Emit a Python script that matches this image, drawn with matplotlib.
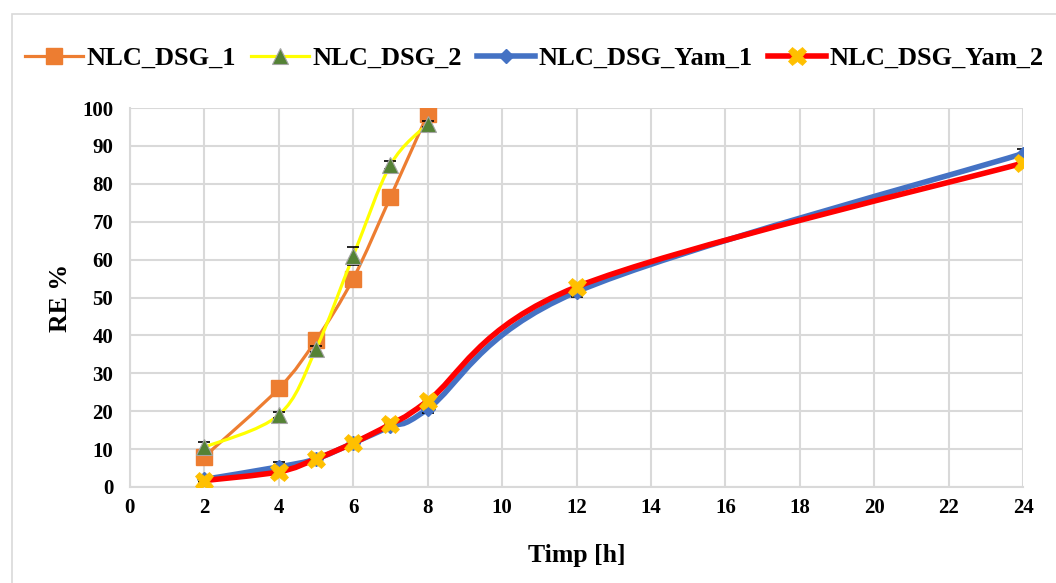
import numpy as np
import matplotlib
matplotlib.use("Agg")
import matplotlib.pyplot as plt
from matplotlib.path import Path
from matplotlib.patches import PathPatch, Rectangle
from matplotlib.lines import Line2D

plt.rcParams['font.family'] = ['Liberation Serif', 'DejaVu Serif']
plt.rcParams['font.weight'] = 'bold'

# Release data
t_dsg = [2, 4, 5, 6, 7, 8]
dsg_1 = [8.0, 26.0, 38.8, 55.0, 76.5, 98.4]
dsg_1_err = [0.8, 0.8, 0.8, 0.8, 0.8, 0.8]
dsg_2 = [10.5, 19.0, 36.4, 61.0, 85.0, 95.8]
dsg_2_err = [1.5, 0.8, 0.8, 2.3, 1.0, 0.8]

t_yam = [2, 4, 5, 6, 7, 8, 12, 24]
yam_1 = [2.0, 5.3, 7.4, 11.6, 16.0, 20.6, 51.5, 88.0]
yam_1_err = [0.5, 1.3, 0.6, 0.6, 1.0, 1.2, 1.3, 1.1]
yam_2 = [1.7, 4.0, 7.4, 11.6, 16.6, 22.7, 52.8, 85.5]
yam_2_err = [0.4, 0.6, 0.5, 0.5, 0.6, 0.6, 0.6, 0.6]

labels = ['NLC_DSG_1', 'NLC_DSG_2', 'NLC_DSG_Yam_1', 'NLC_DSG_Yam_2']
x_ticks = list(range(0, 25, 2))
y_ticks = list(range(0, 101, 10))


def smooth_path(xs, ys):
    """Cubic Bezier path through the points (Catmull-Rom style smoothing)."""
    pts = np.column_stack([xs, ys]).astype(float)
    n = len(pts)
    verts = [pts[0]]
    codes = [Path.MOVETO]
    for i in range(n - 1):
        p0 = pts[i - 1] if i > 0 else pts[i]
        p1 = pts[i]
        p2 = pts[i + 1]
        p3 = pts[i + 2] if i + 2 < n else pts[i + 1]
        c1 = p1 + (p2 - p0) / 6.0
        c2 = p2 - (p3 - p1) / 6.0
        verts += [c1, c2, p2]
        codes += [Path.CURVE4] * 3
    return Path(verts, codes)


fig = plt.figure(figsize=(10.56, 5.83), dpi=100)
# light chart-area frame
fig.patches.append(Rectangle((12 / 1056, -0.1), 1.2, 1.1 - 14 / 583,
                             transform=fig.transFigure, fill=False,
                             edgecolor='#d9d9d9', linewidth=1.2))
ax = fig.add_axes([0.123, 0.1647, 0.846, 0.650])

series = [
    (t_dsg, dsg_1, dsg_1_err, '#ED7D31', 2.3, dict(marker='s', ms=11, mfc='#ED7D31', mec='#ED7D31')),
    (t_dsg, dsg_2, dsg_2_err, '#FFFF00', 2.3, dict(marker='^', ms=11, mfc='#548235', mec='#A5A5A5', mew=0.8)),
    (t_yam, yam_1, yam_1_err, '#4472C4', 4.0, dict(marker='D', ms=7, mfc='#4472C4', mec='#4472C4')),
    (t_yam, yam_2, yam_2_err, '#FF0000', 4.0, dict(marker='X', ms=13, mfc='#FFC000', mec='#FFC000', mew=0.5)),
]

handles = []
for k, (xs, ys, es, col, lw, mk) in enumerate(series):
    z = 3 + k
    ax.add_patch(PathPatch(smooth_path(xs, ys), facecolor='none', edgecolor=col,
                           linewidth=lw, zorder=z, capstyle='round'))
    ax.errorbar(xs, ys, yerr=es, fmt='none', ecolor='black', elinewidth=1.0,
                capsize=4.5, capthick=1.2, zorder=z + 0.2)
    ax.plot(xs, ys, linestyle='none', zorder=z + 0.5, **mk)
    handles.append(Line2D([0], [0], color=col, linewidth=lw, **mk))

ax.set_xlim(0, 24)
ax.set_ylim(0, 100)
ax.set_xticks(x_ticks)
ax.set_yticks(y_ticks)
ax.grid(True, color='#d9d9d9', linewidth=1.5)
ax.set_axisbelow(True)
for s in ['top', 'right']:
    ax.spines[s].set_visible(False)
for s in ['left', 'bottom']:
    ax.spines[s].set_color('#d9d9d9')
    ax.spines[s].set_linewidth(1.5)
ax.tick_params(axis='y', length=0, labelsize=15, pad=12)
ax.tick_params(axis='x', length=0, labelsize=15, pad=8)
for lab in ax.get_xticklabels() + ax.get_yticklabels():
    lab.set_fontweight('bold')

ax.set_xlabel('Timp [h]', fontsize=18.5, fontweight='bold', labelpad=19)
ax.set_ylabel('RE %', fontsize=18.5, fontweight='bold', labelpad=7)

fig.legend(handles, labels, loc='center', bbox_to_anchor=(0.506, 0.90), ncol=4,
           frameon=False, prop={'weight': 'bold', 'size': 19},
           handlelength=2.2, handletextpad=0.15, columnspacing=0.55)

fig.savefig('out.png', dpi=100)
